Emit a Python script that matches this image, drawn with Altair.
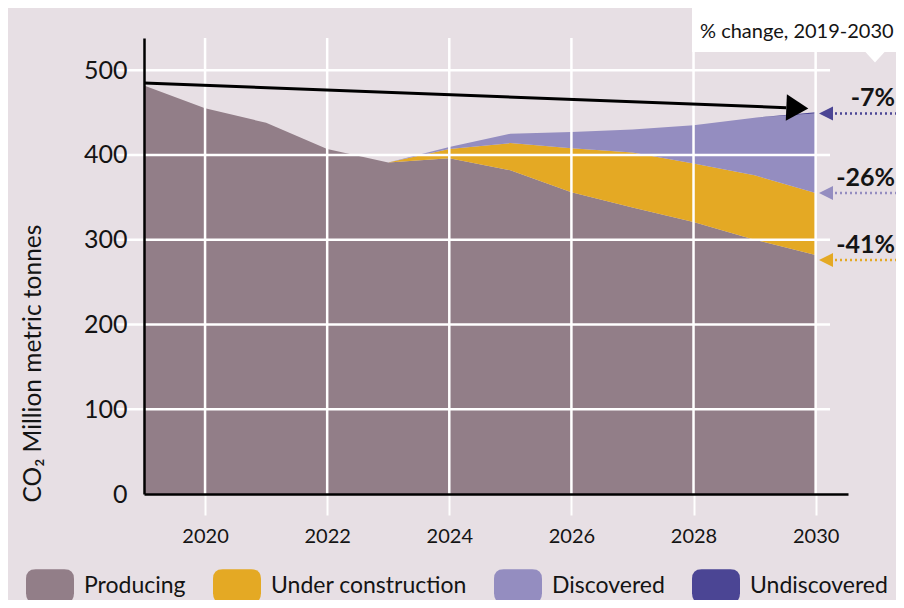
import altair as alt
import pandas as pd

# ---------------- data ----------------
years = list(range(2019, 2031))
producing = [482, 455, 438, 407, 391, 396, 382, 356, 338, 321, 300, 282]
under_construction = [0, 0, 0, 0, 0, 11, 32, 52, 65, 69, 76, 73]
discovered = [0, 0, 0, 0, 0, 2.5, 11, 19, 27, 45, 68, 94]
undiscovered = [0, 0, 0, 0, 0, 0, 0, 0, 0, 0, 0, 1.5]

categories = ["Producing", "Under construction", "Discovered", "Undiscovered"]
cat_colors = ["#927e88", "#e4a924", "#948dc0", "#4b4594"]

x_ticks = [2020, 2022, 2024, 2026, 2028, 2030]
y_ticks = [0, 100, 200, 300, 400, 500]
grid_y = [100, 200, 300, 400, 500]

change_labels = ["-7%", "-26%", "-41%"]
change_values = [449, 355, 276]
change_colors = ["#4b4594", "#948dc0", "#e4a924"]

arrow_start = [2019, 485]
arrow_end = [2029.52, 455.8]
arrow_head = [2029.70, 455.4]

callout_text = "% change, 2019-2030"
y_title = "CO\u2082 Million metric tonnes"

# ---------------- tables ----------------
series = [producing, under_construction, discovered, undiscovered]
rows = []
for ci, (cat, vals) in enumerate(zip(categories, series)):
    for yr, v in zip(years, vals):
        rows.append({"year": yr, "value": v, "category": cat, "order": ci})
df = pd.DataFrame(rows)

xscale = alt.Scale(domain=[2019, 2030.53], nice=False, zero=False)
yscale = alt.Scale(domain=[0, 538], nice=False)

INK = "#141414"
FONT = "Lato"

xaxis = alt.Axis(values=x_ticks, format="d", title=None, grid=False,
                 labelFontSize=20, labelColor=INK, labelFont=FONT,
                 tickColor="white", tickWidth=2, tickSize=21,
                 labelPadding=11, domainColor="black", domainWidth=2.5,
                 zindex=1)
yaxis = alt.Axis(values=y_ticks, grid=False, ticks=False,
                 labelFontSize=25, labelColor=INK, labelFont=FONT,
                 labelPadding=17, domainColor="black", domainWidth=2.5,
                 title=y_title, titleFontSize=24.5, titleFont=FONT,
                 titleFontWeight="normal", titleColor=INK,
                 titleAngle=270, titleAlign="left",
                 titleBaseline="middle", titleX=-111, titleY=464,
                 zindex=1)

rounded = ("M-0.6,-0.7 L0.6,-0.7 Q1,-0.7 1,-0.3 L1,0.3 Q1,0.7 0.6,0.7 "
           "L-0.6,0.7 Q-1,0.7 -1,0.3 L-1,-0.3 Q-1,-0.7 -0.6,-0.7 Z")

area = alt.Chart(df).mark_area(opacity=1, interpolate="linear").encode(
    x=alt.X("year:Q", scale=xscale, axis=xaxis),
    y=alt.Y("value:Q", stack="zero", scale=yscale, axis=yaxis),
    color=alt.Color("category:N",
                    scale=alt.Scale(domain=categories, range=cat_colors),
                    legend=alt.Legend(orient="none", legendX=-118, legendY=524,
                                      direction="horizontal", title=None,
                                      symbolType=rounded, symbolSize=2304,
                                      symbolStrokeWidth=0, symbolOpacity=1,
                                      labelFontSize=23, labelFont=FONT,
                                      labelColor=INK, labelOffset=10,
                                      labelLimit=400, columnPadding=27)),
    order=alt.Order("order:Q", sort="ascending"),
)

hgrid = alt.Chart(pd.DataFrame({"value": grid_y})).mark_rule(
    color="white", strokeWidth=2.5
).encode(
    y=alt.Y("value:Q", scale=yscale, axis=yaxis),
    x=alt.value(-30), x2=alt.value(686),
)

vgrid = alt.Chart(pd.DataFrame({"year": x_ticks})).mark_rule(
    color="white", strokeWidth=2.5
).encode(
    x=alt.X("year:Q", scale=xscale, axis=xaxis),
    y=alt.value(0), y2=alt.value(456),
)

arrow_df = pd.DataFrame({"year": [arrow_start[0]], "value": [arrow_start[1]],
                         "x2": [arrow_end[0]], "y2": [arrow_end[1]]})
arrow_line = alt.Chart(arrow_df).mark_rule(color="black", strokeWidth=3).encode(
    x=alt.X("year:Q", scale=xscale, axis=xaxis),
    y=alt.Y("value:Q", scale=yscale, axis=yaxis),
    x2="x2:Q", y2="y2:Q",
)
head_df = pd.DataFrame({"year": [arrow_head[0]], "value": [arrow_head[1]]})
arrow_tip = alt.Chart(head_df).mark_point(
    shape="M-1,-1.2 L1,0 L-1,1.2 Z", size=484, filled=True, color="black",
    opacity=1, strokeWidth=0, angle=2.4
).encode(
    x=alt.X("year:Q", scale=xscale, axis=xaxis),
    y=alt.Y("value:Q", scale=yscale, axis=yaxis),
)

ch_df = pd.DataFrame({"label": change_labels, "value": change_values,
                      "c": change_colors})
ch_tri = alt.Chart(ch_df).mark_point(
    shape="M1,-1 L-1,0 L1,1 Z", size=196, filled=True, opacity=1,
    strokeWidth=0
).encode(
    x=alt.value(682),
    y=alt.Y("value:Q", scale=yscale, axis=yaxis),
    color=alt.Color("c:N", scale=None),
)
ch_dots = alt.Chart(ch_df).mark_rule(strokeWidth=2.5, strokeDash=[2, 3]).encode(
    x=alt.value(691), x2=alt.value(752),
    y=alt.Y("value:Q", scale=yscale, axis=yaxis),
    color=alt.Color("c:N", scale=None),
)
ch_text = alt.Chart(ch_df).mark_text(
    align="right", baseline="alphabetic", dy=-7, fontSize=25,
    fontWeight="bold", font=FONT, color=INK
).encode(
    x=alt.value(751),
    y=alt.Y("value:Q", scale=yscale, axis=yaxis),
    text="label:N",
)

call_df = pd.DataFrame({"t": [callout_text]})
call_box = alt.Chart(call_df).mark_rect(color="white", opacity=1).encode(
    x=alt.value(548), x2=alt.value(760), y=alt.value(-30), y2=alt.value(14),
)
call_ptr = alt.Chart(call_df).mark_point(
    shape="M-1,-0.55 L1,-0.55 L0,0.55 Z", size=400, filled=True,
    color="white", opacity=1, strokeWidth=0
).encode(x=alt.value(731), y=alt.value(19))
call_text = alt.Chart(call_df).mark_text(
    align="left", baseline="middle", fontSize=20, font=FONT, color=INK
).encode(x=alt.value(556), y=alt.value(-6), text="t:N")

chart = alt.layer(
    area, hgrid, vgrid, arrow_line, arrow_tip, ch_dots, ch_tri, ch_text,
    call_box, call_ptr, call_text
).properties(
    width=704, height=456,
    padding={"left": 136, "top": 30, "right": 48, "bottom": 106},
    autosize=alt.AutoSizeParams(type="none"),
).configure(
    background="#e7dfe4", font=FONT
).configure_view(stroke=None)

chart.save("out.html", embed_options={"renderer": "svg", "actions": False})
